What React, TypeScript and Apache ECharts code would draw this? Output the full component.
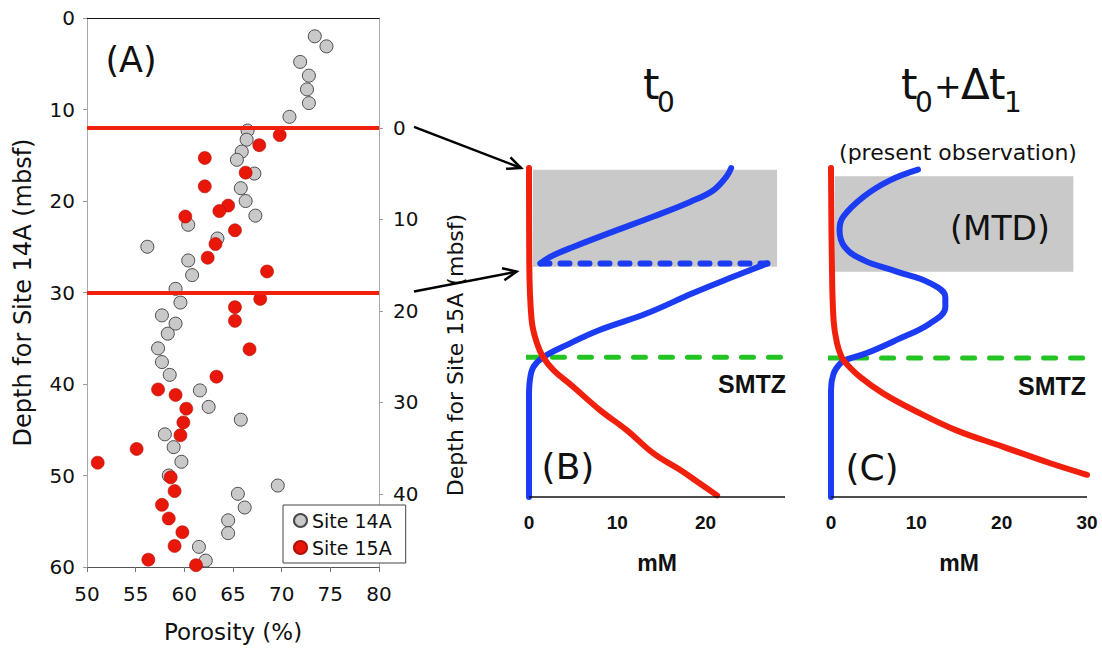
import React, { useEffect, useRef } from 'react';
import * as echarts from 'echarts';

// ---------- Panel A data ----------
const site14APorosity = [73.4, 74.6, 71.9, 72.8, 72.6, 72.8, 70.8, 66.5, 66.4, 65.9, 65.4, 67.2, 65.8, 66.3, 67.3, 60.4, 63.4, 56.2, 60.4, 60.8, 59.1, 59.6, 57.7, 59.1, 58.3, 57.3, 57.7, 58.5, 61.6, 62.5, 65.8, 58.0, 58.9, 59.7, 58.4, 69.6, 65.5, 66.2, 64.5, 64.5, 61.5, 62.2];
const site14ADepth = [2.0, 3.1, 4.8, 6.3, 7.8, 9.3, 10.8, 12.3, 13.3, 14.6, 15.5, 17.0, 18.6, 20.0, 21.6, 22.6, 24.1, 25.0, 26.5, 28.1, 29.6, 31.1, 32.5, 33.4, 34.5, 36.1, 37.6, 39.0, 40.7, 42.5, 43.9, 45.5, 46.9, 48.5, 50.0, 51.1, 52.0, 53.5, 54.9, 56.3, 57.8, 59.3];
const site15APorosity = [69.8, 67.7, 62.1, 66.3, 62.1, 64.5, 63.6, 60.1, 65.2, 63.2, 62.4, 68.5, 67.8, 65.2, 65.2, 66.7, 63.3, 57.3, 59.1, 60.2, 59.9, 59.6, 55.1, 51.1, 58.6, 59.0, 57.7, 58.4, 59.8, 59.0, 56.3, 61.2];
const site15ADepth = [0.8, 1.9, 3.3, 4.9, 6.4, 8.5, 9.1, 9.7, 11.2, 12.7, 14.2, 15.7, 18.7, 19.6, 21.1, 24.2, 27.2, 28.6, 29.2, 30.7, 32.2, 33.6, 35.1, 36.6, 38.2, 39.7, 41.2, 42.7, 44.2, 45.7, 47.2, 47.8];
const markerDepths14A = [12, 30];
const depth15ATicks = [0, 10, 20, 30, 40];

// ---------- Panel B (t0) schematic profiles: [mM, depth] ----------
const bRed = [[0, 0], [0.03, 11.2], [0.3, 18.5], [0.9, 21.3], [1.6, 23.0], [2.8, 24.6], [5.0, 26.6], [8.0, 29.4], [11.1, 31.9], [14.1, 34.7], [17.1, 36.7], [19.4, 38.4], [21.3, 39.8]];
const bBlueUpper = [[22.9, 0], [22.4, 1.0], [20.9, 2.7], [18.3, 4.1], [14.1, 5.9], [9.6, 7.7], [5.0, 9.6], [2.4, 10.8], [1.3, 11.6]];
const bBlueDashed = [[1.3, 11.6], [27.0, 11.6]];
const bBlueLower = [[27.0, 11.6], [23.2, 13.2], [18.6, 15.2], [13.3, 17.7], [8.0, 19.7], [4.3, 21.5], [1.6, 23.0], [0.5, 24.2], [0.1, 25.8], [0, 27.8], [0, 40]];
const bSMTZ = [[-0.4, 23.0], [29.1, 23.0]];
const bMTD = [[0.45, 0.2], [28.1, 12.0]];
const mMMaxB = 29;
const mMTicksB = [0, 10, 20];

// ---------- Panel C (t0 + Δt1) ----------
const cRed = [[0, 0], [0.1, 11.2], [0.3, 18.5], [0.7, 21.3], [1.25, 23.0], [1.8, 23.8], [3.4, 25.4], [6.1, 27.4], [10.0, 29.6], [14.7, 31.9], [20.2, 33.9], [25.7, 35.9], [30.0, 37.3]];
const cBlue = [[10.2, 0.2], [6.9, 1.5], [3.8, 3.5], [1.45, 5.9], [1.0, 7.5], [1.6, 9.6], [3.8, 11.2], [7.7, 12.6], [11.6, 14.0], [13.4, 15.7], [13.4, 16.9], [11.6, 18.9], [7.7, 20.9], [4.2, 22.5], [1.8, 23.3], [1.05, 23.8], [0.3, 25.0], [0, 27.0], [0, 40]];
const cSMTZ = [[-0.4, 23.1], [30.07, 23.1]];
const cMTD = [[0.47, 1.0], [28.4, 12.6]];
const mMMaxC = 30;
const mMTicksC = [0, 10, 20, 30];

const schematicDepthMax = 40;

// arrows linking panel A depths to panel B depths
const arrowLinks = [
  { from15A: 0, toMM: -0.9, toDepth: 0 },
  { from14A: 30, toMM: -1.4, toDepth: 12.6 },
];

const FONT = '"DejaVu Sans", sans-serif';
const BOLD = '"Liberation Sans", Arial, sans-serif';
const RED = '#f0200c';
const BLUE = '#1c3cf4';
const GREEN = '#22c322';
const GRAY_FILL = '#c9c9c9';

function zip(a: number[], b: number[]) {
  return a.map((v, i) => [v, b[i]]);
}

// axis baseline + tick marks for schematic panels, in data coordinates
function axisMarks(max: number, ticks: number[]) {
  const base = [[{ coord: [0, schematicDepthMax] }, { coord: [max, schematicDepthMax] }]];
  const tk = ticks.map((t) => [{ coord: [t, schematicDepthMax] }, { coord: [t, schematicDepthMax + 0.6] }]);
  return [...base, ...tk];
}

export default function App() {
  const ref = useRef<HTMLDivElement>(null);
  useEffect(() => {
    const chart = echarts.init(ref.current!, null, { renderer: 'svg' });
    const tickLabelA = { fontFamily: FONT, fontSize: 20, color: '#111' };
    const mmAxis = (grid: number, max: number, ticks: number[]) => ({
      type: 'value', gridIndex: grid, min: 0, max, position: 'bottom',
      axisLine: { show: false, onZero: false },
      axisTick: { show: false },
      axisLabel: { customValues: ticks, margin: 16, fontFamily: BOLD, fontWeight: 'bold', fontSize: 19, color: '#111' },
      splitLine: { show: false },
      name: 'mM', nameLocation: 'middle', nameGap: 54,
      nameTextStyle: { fontFamily: BOLD, fontWeight: 'bold', fontSize: 23, color: '#111' },
    });
    const line = (name: string, x: number, y: number, data: number[][], color: string, extra: any = {}) => ({
      name, type: 'line', xAxisIndex: x, yAxisIndex: y, data, smooth: 0.4,
      showSymbol: false, symbol: 'none', clip: false, silent: true, z: 3,
      lineStyle: { color, width: 6, cap: 'round', join: 'round', ...(extra.lineStyle || {}) },
      ...(extra.rest || {}),
    });
    const schematicBase = (name: string, x: number, y: number, smtz: number[][], mtd: number[][], max: number, ticks: number[]) =>
      line(name, x, y, smtz, GREEN, {
        lineStyle: { width: 5, type: [12, 15] },
        rest: {
          smooth: false, z: 2,
          markArea: { silent: true, itemStyle: { color: GRAY_FILL }, data: [[{ coord: mtd[0] }, { coord: mtd[1] }]] },
          markLine: {
            silent: true, symbol: ['none', 'none'], label: { show: false },
            lineStyle: { color: '#111', width: 1.5, type: 'solid' },
            data: axisMarks(max, ticks),
          },
        },
      });

    chart.setOption({
      animation: false,
      backgroundColor: '#fff',
      textStyle: { fontFamily: FONT },
      grid: [
        { left: 87, top: 18, width: 292, height: 549 },
        { left: 529, top: 168, width: 256, height: 329 },
        { left: 831, top: 168, width: 256, height: 329 },
      ],
      legend: {
        data: ['Site 14A', 'Site 15A'], orient: 'vertical', left: 283, top: 505,
        padding: [6, 14, 6, 10], itemGap: 8, itemWidth: 13, itemHeight: 13,
        borderColor: '#444', borderWidth: 1, backgroundColor: '#fff',
        textStyle: { fontFamily: FONT, fontSize: 19, color: '#111' }, icon: 'circle',
      },
      xAxis: [
        {
          type: 'value', gridIndex: 0, min: 50, max: 80, interval: 5, position: 'bottom',
          axisLine: { show: true, onZero: false, lineStyle: { color: '#555' } },
          axisTick: { show: true, length: 5, lineStyle: { color: '#777' } },
          axisLabel: { ...tickLabelA, margin: 17 },
          splitLine: { show: false },
          name: 'Porosity (%)', nameLocation: 'middle', nameGap: 53,
          nameTextStyle: { fontFamily: FONT, fontSize: 23, color: '#111' },
        },
        {
          type: 'value', gridIndex: 0, min: 50, max: 80, position: 'top',
          axisLine: { show: true, onZero: false, lineStyle: { color: '#111' } },
          axisTick: { show: false }, axisLabel: { show: false }, splitLine: { show: false },
        },
        mmAxis(1, mMMaxB, mMTicksB),
        mmAxis(2, mMMaxC, mMTicksC),
      ],
      yAxis: [
        {
          type: 'value', gridIndex: 0, min: 0, max: 60, interval: 10, inverse: true, position: 'left',
          axisLine: { show: true, onZero: false, lineStyle: { color: '#aaa' } },
          axisTick: { show: true, length: 4, lineStyle: { color: '#999' } },
          axisLabel: { ...tickLabelA, margin: 12 },
          splitLine: { show: false },
          name: 'Depth for Site 14A (mbsf)', nameLocation: 'middle', nameGap: 52, nameRotate: 90,
          nameTextStyle: { fontFamily: FONT, fontSize: 24, color: '#111' },
        },
        {
          type: 'value', gridIndex: 0, min: -12, max: 48, inverse: true, position: 'right',
          axisLine: { show: true, onZero: false, lineStyle: { color: '#aaa' } },
          axisTick: { show: true, length: 4, customValues: depth15ATicks, lineStyle: { color: '#999' } },
          axisLabel: { ...tickLabelA, margin: 14, customValues: depth15ATicks },
          splitLine: { show: false },
        },
        { type: 'value', gridIndex: 1, min: 0, max: schematicDepthMax, inverse: true, show: false, axisLine: { onZero: false } },
        { type: 'value', gridIndex: 2, min: 0, max: schematicDepthMax, inverse: true, show: false, axisLine: { onZero: false } },
      ],
      series: [
        {
          name: 'markers', type: 'line', xAxisIndex: 0, yAxisIndex: 0, data: [], z: 1, silent: true,
          markLine: {
            silent: true, symbol: ['none', 'none'], label: { show: false },
            lineStyle: { color: RED, width: 4, type: 'solid' },
            data: markerDepths14A.map((d) => ({ yAxis: d })),
          },
        },
        {
          name: 'Site 14A', type: 'scatter', xAxisIndex: 0, yAxisIndex: 0, z: 4,
          data: zip(site14APorosity, site14ADepth), symbolSize: 13,
          itemStyle: { color: GRAY_FILL, borderColor: '#4a4a4a', borderWidth: 1, opacity: 1 },
        },
        {
          name: 'Site 15A', type: 'scatter', xAxisIndex: 0, yAxisIndex: 1, z: 4,
          data: zip(site15APorosity, site15ADepth), symbolSize: 13,
          itemStyle: { color: '#e8170a', borderColor: '#b01006', borderWidth: 0.6, opacity: 1 },
        },
        // Panel B
        schematicBase('SMTZ B', 2, 2, bSMTZ, bMTD, mMMaxB, mMTicksB),
        line('blue B upper', 2, 2, bBlueUpper, BLUE),
        line('blue B dashed', 2, 2, bBlueDashed, BLUE, { lineStyle: { type: [9, 11] }, rest: { smooth: false } }),
        line('blue B lower', 2, 2, bBlueLower, BLUE),
        line('red B', 2, 2, bRed, RED),
        // Panel C
        schematicBase('SMTZ C', 3, 3, cSMTZ, cMTD, mMMaxC, mMTicksC),
        line('blue C', 3, 3, cBlue, BLUE),
        line('red C', 3, 3, cRed, RED),
      ],
    });

    const px = (finder: any, v: number[]) => chart.convertToPixel(finder, v) as unknown as number[];
    const arrows: any[] = [];
    arrowLinks.forEach((a: any) => {
      let tail: number[];
      if (a.from15A !== undefined) tail = px({ xAxisIndex: 0, yAxisIndex: 1 }, [80, a.from15A]);
      else tail = px({ xAxisIndex: 0, yAxisIndex: 0 }, [80, a.from14A]);
      tail = [tail[0] + 35, tail[1] - 1];
      const head = px({ xAxisIndex: 2, yAxisIndex: 2 }, [a.toMM, a.toDepth]);
      const ang = Math.atan2(head[1] - tail[1], head[0] - tail[0]);
      const L = 15, spread = 0.42;
      const w1 = [head[0] - L * Math.cos(ang - spread), head[1] - L * Math.sin(ang - spread)];
      const w2 = [head[0] - L * Math.cos(ang + spread), head[1] - L * Math.sin(ang + spread)];
      arrows.push({ type: 'line', z: 50, shape: { x1: tail[0], y1: tail[1], x2: head[0], y2: head[1] }, style: { stroke: '#000', lineWidth: 2.5 } });
      arrows.push({ type: 'polyline', z: 50, shape: { points: [w1, head, w2] }, style: { stroke: '#000', lineWidth: 2.5, fill: null } });
    });

    const txt = (text: string, x: number, y: number, fontSize: number, extra: any = {}) => ({
      type: 'text', x, y, z: 40, ...(extra.el || {}),
      style: {
        text, fontSize, fontFamily: extra.family || FONT, fontWeight: extra.weight || 'normal',
        fill: '#111', align: extra.align || 'center', verticalAlign: 'middle',
      },
    });

    chart.setOption({
      graphic: [
        txt('(A)', 131, 60, 35),
        txt('Depth for Site 15A (mbsf)', 455, 355, 22, { el: { rotation: Math.PI / 2 } }),
        txt('t', 643, 84, 42, { align: 'left' }),
        txt('0', 657, 102, 28, { align: 'left' }),
        txt('t', 901, 84, 42, { align: 'left' }),
        txt('0', 915, 102, 28, { align: 'left' }),
        txt('+', 934, 86, 33, { align: 'left' }),
        txt('Δ', 961, 84, 42, { align: 'left' }),
        txt('t', 989, 84, 42, { align: 'left' }),
        txt('1', 1004, 102, 28, { align: 'left' }),
        txt('(present observation)', 958, 152, 22),
        txt('(MTD)', 1000, 228, 33),
        txt('SMTZ', 786, 384, 25, { align: 'right', family: BOLD, weight: 'bold' }),
        txt('SMTZ', 1086, 386, 25, { align: 'right', family: BOLD, weight: 'bold' }),
        txt('(B)', 568, 466, 36),
        txt('(C)', 872, 467, 36),
        ...arrows,
      ],
    });
    return () => chart.dispose();
  }, []);
  return <div ref={ref} style={{ position: 'absolute', left: 0, top: 0, width: 1102, height: 650 }} />;
}
